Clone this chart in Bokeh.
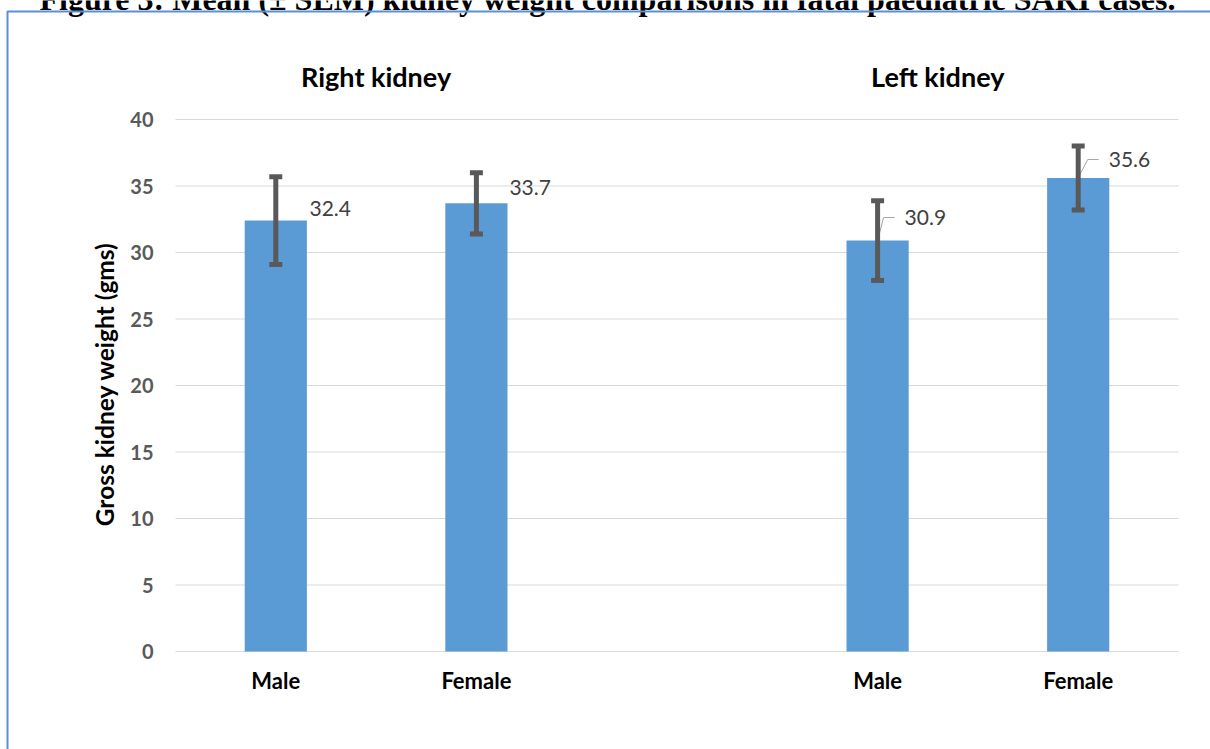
import math
from bokeh.plotting import figure
from bokeh.models import ColumnDataSource, Whisker, TeeHead, Range1d
from bokeh.core.properties import value
from bokeh.embed import file_html
from bokeh.resources import INLINE

# ---------------- data ----------------
title_text = "Figure 3: Mean (\u00b1 SEM) kidney weight comparisons in fatal paediatric SARI cases."
group_names = ["Right kidney", "Left kidney"]
group_centers = [1.0, 3.8]
sex_labels = ["Male", "Female", "Male", "Female"]
bar_positions = [0.5, 1.5, 3.5, 4.5]
mean_weight = [32.4, 33.7, 30.9, 35.6]
sem_weight = [3.3, 2.3, 3.0, 2.4]
y_ticks = [0, 5, 10, 15, 20, 25, 30, 35, 40]
y_label = "Gross kidney weight (gms)"

# ---------------- layout (pixels) ----------------
W, H = 1210, 749
FL, FR, FT, FB = 175, 1178, 119, 651          # plot area inside the picture
X0, X1, Y0, Y1 = 0.0, 5.0, 0.0, 40.0
ux = (X1 - X0) / (FR - FL)   # data units per pixel (x)
uy = (Y1 - Y0) / (FB - FT)   # data units per pixel (y)

def data_x(px):
    return X0 + (px - FL) * ux

def data_y(py):
    return Y0 + (FB - py) * uy

# data label offsets (pixels, style only)
label_dx = [33.7, 33.0, 27.0, 30.5]
label_dy = [12, 16, 23, 18.5]
has_leader = [False, False, True, True]

FONT = "Lato"
BAR = "#5b9bd5"
ERR = "#595959"
GRID = "#d9d9d9"
BORDER = "#5b8fd6"

p = figure(width=W, height=H,
           x_range=Range1d(data_x(0), data_x(W)), y_range=Range1d(data_y(H), data_y(0)),
           x_axis_location=None, y_axis_location=None,
           output_backend="svg", toolbar_location=None, min_border=0)
p.outline_line_color = None
p.grid.visible = False
p.background_fill_color = "white"
p.border_fill_color = "white"

# horizontal gridlines at the y ticks (plot area only)
p.segment(x0=[X0] * len(y_ticks), x1=[X1] * len(y_ticks), y0=y_ticks, y1=y_ticks,
          line_color=GRID, line_width=1)

# y tick labels
p.text(x=[X0] * len(y_ticks), y=y_ticks, text=[str(t) for t in y_ticks],
       x_offset=-22, text_align="right", text_baseline="middle",
       text_font=value(FONT), text_font_style="bold", text_font_size="20px",
       text_color="#595959")

# y axis title
p.text(x=[data_x(104)], y=[(Y0 + Y1) / 2 + 0.1], text=[y_label], angle=math.pi / 2,
       text_align="center", text_baseline="middle",
       text_font=value(FONT), text_font_style="bold", text_font_size="24.5px",
       text_color="black")

# bars
src = ColumnDataSource(dict(
    x=bar_positions, top=mean_weight,
    upper=[m + s for m, s in zip(mean_weight, sem_weight)],
    lower=[m - s for m, s in zip(mean_weight, sem_weight)],
    label=[f"{m:.1f}" for m in mean_weight],
    xo=label_dx, yo=[-d for d in label_dy],
    cat=sex_labels,
))
p.vbar(x="x", top="top", width=0.31, bottom=0, source=src,
       fill_color=BAR, line_color=None)

# x category labels
p.text(x="x", y=0, text="cat", source=src, y_offset=29,
       text_align="center", text_baseline="alphabetic",
       text_font=value(FONT), text_font_style="bold", text_font_size="22px",
       text_color="black")

# group titles
p.text(x=group_centers, y=[data_y(76)] * len(group_centers), text=group_names,
       text_align="center", text_baseline="alphabetic",
       text_font=value(FONT), text_font_style="bold", text_font_size="27px",
       text_color="black")

# leader lines
lx, ly = [], []
for cx, m, ddx, ddy, lead in zip(bar_positions, mean_weight, label_dx, label_dy, has_leader):
    if lead:
        lx.append([cx, cx + (ddx - 21) * ux, cx + (ddx - 10) * ux])
        ly.append([m, m + ddy * uy, m + ddy * uy])
if lx:
    p.multi_line(xs=lx, ys=ly, line_color="#a6a6a6", line_width=1)

# error bars
whisk = Whisker(base="x", upper="upper", lower="lower", source=src,
                line_color=ERR, line_width=5, level="annotation",
                upper_head=TeeHead(size=13, line_color=ERR, line_width=5),
                lower_head=TeeHead(size=13, line_color=ERR, line_width=5))
p.add_layout(whisk)

# data labels
p.text(x="x", y="top", text="label", x_offset="xo", y_offset="yo", source=src,
       text_font=value(FONT), text_font_size="21px", text_color="#404040",
       text_align="left", text_baseline="middle")

# figure caption, clipped at the top edge as in the source
p.text(x=[data_x(607)], y=[data_y(-2)], text=[title_text],
       text_align="center", text_baseline="alphabetic",
       text_font=value("Liberation Serif"), text_font_style="bold",
       text_font_size="32px", text_color="black")

# box border (left and top edges visible)
p.line(x=[data_x(7), data_x(7), data_x(W + 20)], y=[data_y(H + 20), data_y(11), data_y(11)],
       line_color=BORDER, line_width=2)

open("out.html", "w").write(file_html(p, INLINE))
